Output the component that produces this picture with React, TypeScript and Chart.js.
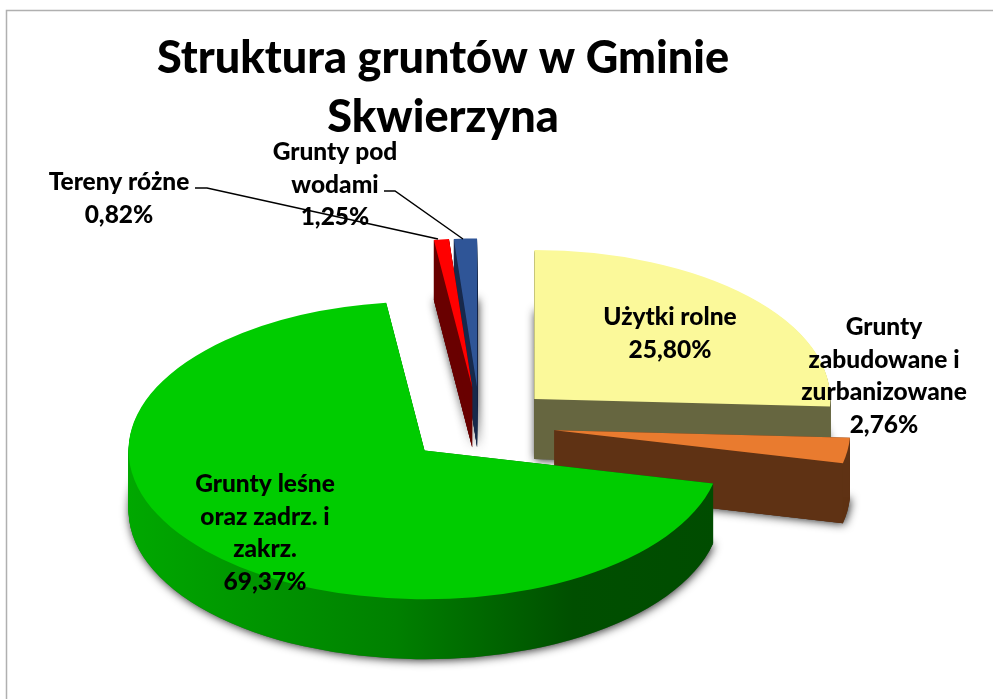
import React, { useEffect, useRef } from "react";
import { Chart, registerables } from "chart.js";

Chart.register(...registerables);

const titleLines = ["Struktura gruntów w Gminie", "Skwierzyna"];
const categories = [
  ["Użytki rolne"],
  ["Grunty", "zabudowane i", "zurbanizowane"],
  ["Grunty leśne", "oraz zadrz. i", "zakrz."],
  ["Tereny różne"],
  ["Grunty pod", "wodami"],
];
const values = [25.8, 2.76, 69.37, 0.82, 1.25];
const topColors = ["#fbf99a", "#e97b2f", "#00cc00", "#ff0000", "#2f5597"];
const sideColors = ["#666640", "#5f3214", "", "#690000", "#17294b"];

// layout of the drawing
const FONT = "Lato";
const PIE_X = 480;
const PIE_Y = 425;
const RADIUS = 296;
const SQUASH = 0.503;
const EXPLODE = 75;
const DEPTH = 60;
const labelAnchors = [
  { x: 670, y: 317 },
  { x: 884, y: 327 },
  { x: 265, y: 484 },
  { x: 119, y: 182 },
  { x: 335, y: 152 },
];
const leaders = [
  { index: 3, pts: [[195, 188], [207, 188], [438, 239]] },
  { index: 4, pts: [[384, 191], [395, 191], [463, 239]] },
];

const pie3d = {
  id: "pie3d",
  beforeDraw(chart: any) {
    const ctx = chart.ctx;
    ctx.save();
    ctx.strokeStyle = "#b0b0b0";
    ctx.lineWidth = 1.5;
    ctx.beginPath();
    ctx.moveTo(993, 10.5);
    ctx.lineTo(6.5, 10.5);
    ctx.lineTo(6.5, 699);
    ctx.stroke();
    ctx.restore();
  },
  beforeDatasetsDraw(chart: any) {
    const ctx = chart.ctx;
    const arcs = chart.getDatasetMeta(0).data as any[];
    const placed = arcs.map((arc, i) => {
      const mid = (arc.startAngle + arc.endAngle) / 2;
      return {
        arc,
        i,
        tx: PIE_X + Math.cos(mid) * EXPLODE,
        ty: PIE_Y + Math.sin(mid) * EXPLODE * SQUASH,
      };
    });
    placed.sort((a, b) => a.ty - b.ty);

    const layer = (arc: any, tx: number, ty: number) => {
      ctx.beginPath();
      ctx.moveTo(tx, ty);
      ctx.ellipse(tx, ty, arc.outerRadius, arc.outerRadius * SQUASH, 0, arc.startAngle, arc.endAngle);
      ctx.closePath();
      ctx.fill();
    };
    // the flat face cut along one radial edge of a slice
    const cutFace = (arc: any, tx: number, ty: number, angle: number) => {
      const rx = tx + Math.cos(angle) * arc.outerRadius;
      const ry = ty + Math.sin(angle) * arc.outerRadius * SQUASH;
      ctx.beginPath();
      ctx.moveTo(tx, ty);
      ctx.lineTo(rx, ry);
      ctx.lineTo(rx, ry + DEPTH);
      ctx.lineTo(tx, ty + DEPTH);
      ctx.closePath();
      ctx.fill();
    };

    // soft shadows lie under every slice
    ctx.save();
    ctx.shadowColor = "rgba(0,0,0,0.85)";
    ctx.shadowBlur = 10;
    ctx.shadowOffsetX = 1;
    ctx.shadowOffsetY = 1;
    ctx.fillStyle = "#555";
    for (const { arc, tx, ty } of placed) layer(arc, tx, ty + DEPTH);
    ctx.restore();

    for (const { arc, i, tx, ty } of placed) {
      let side: any = sideColors[i];
      if (!side) {
        side = ctx.createLinearGradient(tx - RADIUS, 0, tx + RADIUS, 0);
        side.addColorStop(0, "#00a800");
        side.addColorStop(0.45, "#008000");
        side.addColorStop(0.75, "#004f00");
        side.addColorStop(1, "#004c00");
      }
      ctx.fillStyle = side;
      for (let d = DEPTH; d >= 1; d--) layer(arc, tx, ty + d);
      cutFace(arc, tx, ty, arc.startAngle);
      cutFace(arc, tx, ty, arc.endAngle);
      ctx.save();
      ctx.translate(tx, ty);
      ctx.scale(1, SQUASH);
      ctx.translate(-arc.x, -arc.y);
      arc.draw(ctx);
      ctx.restore();
    }

    // data labels
    ctx.save();
    ctx.fillStyle = "#000";
    ctx.textAlign = "center";
    ctx.textBaseline = "middle";
    ctx.font = `900 24.5px ${FONT}`;
    categories.forEach((lines, i) => {
      const text = [...lines, values[i].toFixed(2).replace(".", ",") + "%"];
      text.forEach((t, j) => ctx.fillText(t, labelAnchors[i].x, labelAnchors[i].y + j * 32.7));
    });
    ctx.strokeStyle = "#000";
    ctx.lineWidth = 1.5;
    for (const l of leaders) {
      ctx.beginPath();
      l.pts.forEach((p, j) => (j ? ctx.lineTo(p[0], p[1]) : ctx.moveTo(p[0], p[1])));
      ctx.stroke();
    }
    ctx.restore();
    return false;
  },
};

export default function App() {
  const ref = useRef<HTMLCanvasElement>(null);
  useEffect(() => {
    document.body.style.margin = "0";
    const chart = new Chart(ref.current!, {
      type: "pie",
      data: {
        labels: categories.map((c) => c.join(" ")),
        datasets: [{ data: values, backgroundColor: topColors, borderWidth: 0, offset: 0 }],
      },
      options: {
        responsive: false,
        animation: false,
        events: [],
        radius: RADIUS,
        layout: { padding: { top: 0, left: 0, right: 107, bottom: 0 } },
        plugins: {
          legend: { display: false },
          tooltip: { enabled: false },
          title: {
            display: true,
            text: titleLines,
            fullSize: false,
            color: "#000",
            font: { family: FONT, size: 45, weight: "900", lineHeight: 1.31 },
            padding: { top: 29, bottom: 0 },
          },
        },
      } as any,
      plugins: [pie3d as any],
    });
    return () => chart.destroy();
  }, []);
  return <canvas ref={ref} width={993} height={699} style={{ display: "block", width: 993, height: 699 }} />;
}
